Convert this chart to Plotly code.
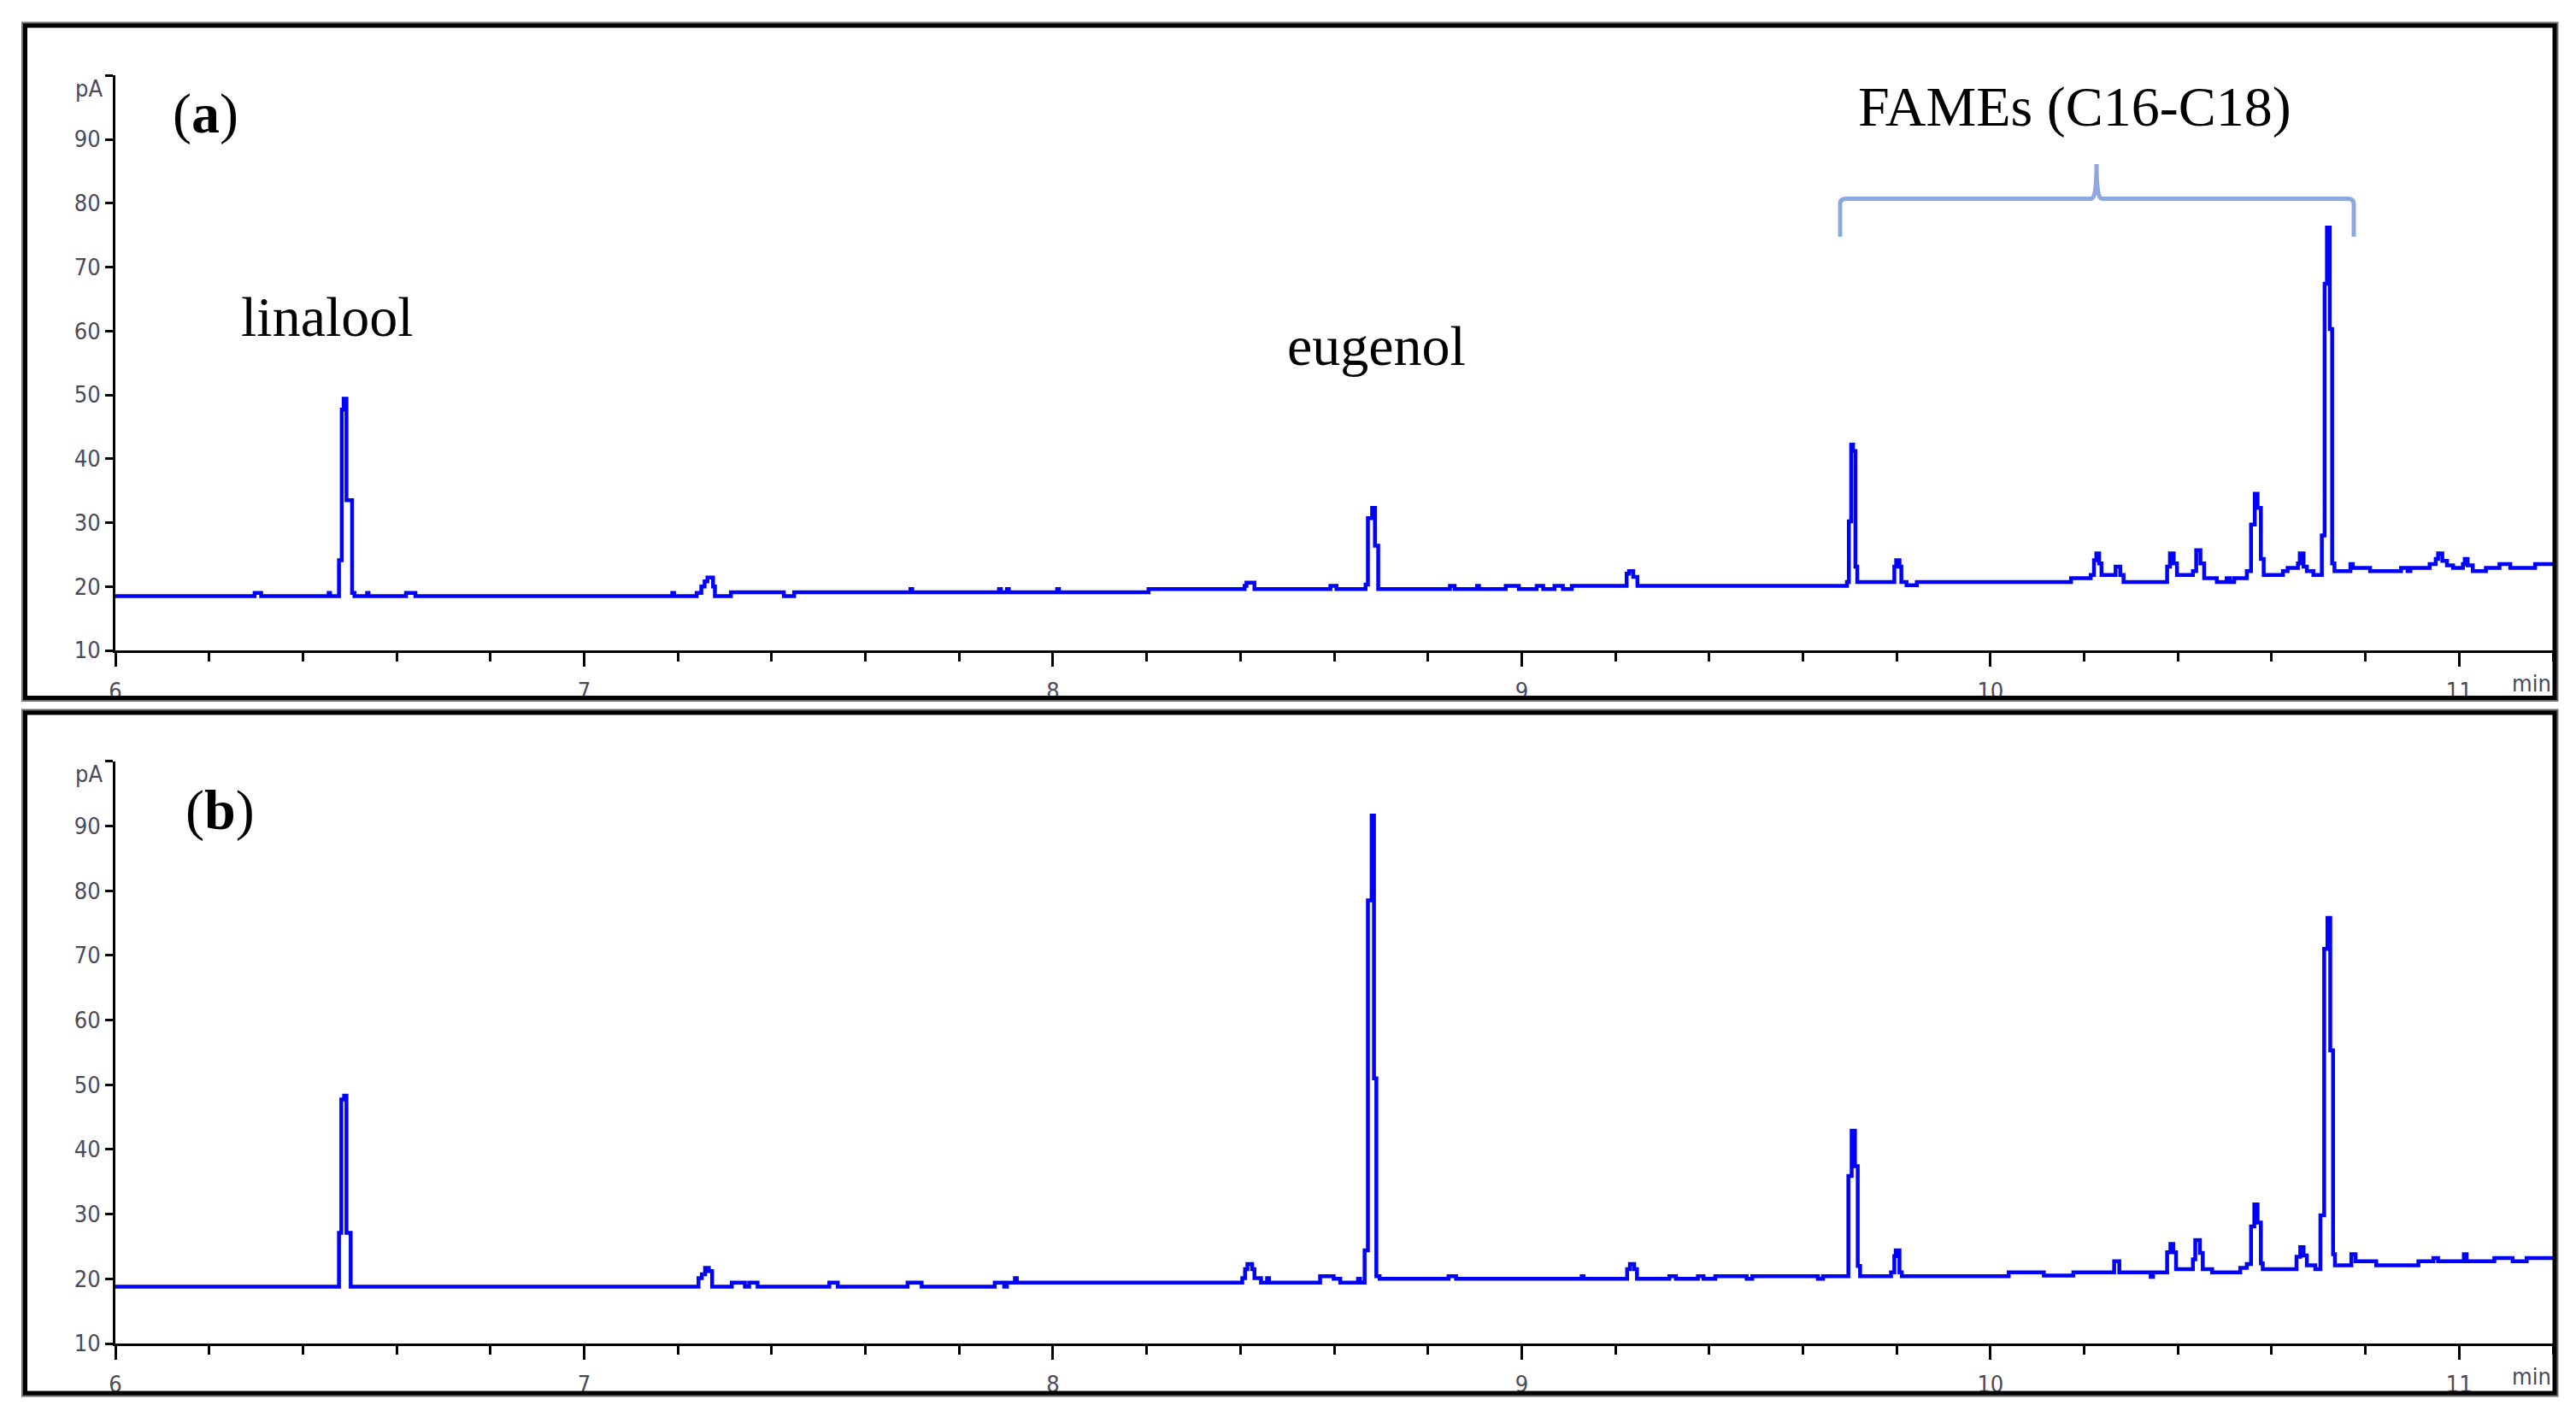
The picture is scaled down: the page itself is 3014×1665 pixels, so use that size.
import plotly.graph_objects as go

# ---------------- data ----------------
# Panel (a): retention time (min) and detector signal (pA), step-wise trace
T_A = [6.000, 6.297, 6.311, 6.455, 6.458, 6.477, 6.483, 6.487, 6.493, 6.505, 6.510, 6.537, 6.540,
       6.620, 6.640, 7.188, 7.192, 7.240, 7.250, 7.257, 7.263, 7.275, 7.279, 7.313, 7.426, 7.448,
       7.696, 7.700, 7.885, 7.889, 7.902, 7.906, 8.009, 8.013, 8.204, 8.409, 8.413, 8.430, 8.592,
       8.605, 8.667, 8.672, 8.681, 8.687, 8.694, 8.847, 8.857, 8.905, 8.909, 8.966, 8.994, 9.032,
       9.046, 9.070, 9.088, 9.107, 9.224, 9.229, 9.238, 9.247, 9.694, 9.698, 9.703, 9.707, 9.712,
       9.716, 9.795, 9.799, 9.806, 9.810, 9.821, 9.843, 10.172, 10.214, 10.221, 10.226, 10.232,
       10.237, 10.267, 10.277, 10.284, 10.377, 10.383, 10.391, 10.398, 10.432, 10.439, 10.448,
       10.456, 10.483, 10.504, 10.511, 10.520, 10.547, 10.556, 10.564, 10.570, 10.577, 10.583,
       10.624, 10.634, 10.656, 10.660, 10.668, 10.675, 10.689, 10.707, 10.713, 10.718, 10.724,
       10.729, 10.734, 10.768, 10.773, 10.810, 10.876, 10.890, 10.896, 10.937, 10.950, 10.955,
       10.964, 10.974, 10.987, 11.008, 11.012, 11.018, 11.029, 11.057, 11.086, 11.109, 11.162,
       11.200]
V_A = [18.5, 19.0, 18.5, 19.0, 18.5, 24.1, 47.7, 49.4, 33.5, 19.0, 18.5, 19.0, 18.5,
       19.0, 18.5, 19.0, 18.5, 19.0, 20.0, 20.8, 21.4, 20.0, 18.5, 19.1, 18.5, 19.1,
       19.6, 19.1, 19.6, 19.1, 19.6, 19.1, 19.6, 19.1, 19.6, 20.1, 20.6, 19.6, 20.1,
       19.6, 20.3, 30.7, 32.3, 26.4, 19.6, 20.1, 19.6, 20.1, 19.6, 20.1, 19.6, 20.1,
       19.6, 20.1, 19.6, 20.1, 22.0, 22.4, 21.5, 20.1, 20.7, 30.2, 42.2, 41.2, 23.1,
       20.7, 23.1, 24.1, 23.1, 20.7, 20.2, 20.7, 21.3, 21.8, 24.1, 25.2, 23.6,
       21.8, 23.1, 21.8, 20.7, 23.1, 25.2, 23.6, 21.8, 22.4, 25.7, 23.6,
       21.3, 20.7, 21.3, 20.7, 21.3, 22.4, 29.7, 34.5, 32.3, 24.3, 21.8,
       22.4, 22.9, 23.6, 25.2, 23.1, 22.4, 21.8, 28.0, 67.4, 76.2, 60.3,
       23.6, 22.4, 23.5, 22.9, 22.4, 22.9, 22.4, 22.9, 23.5, 24.3, 25.2,
       24.0, 23.3, 22.9, 23.5, 24.3, 23.3, 22.4, 22.9, 23.5, 22.9, 23.5,
       23.5]

# Panel (b)
T_B = [6.000, 6.477, 6.482, 6.488, 6.493, 6.502, 7.244, 7.251, 7.258, 7.266, 7.273, 7.315, 7.343,
       7.352, 7.370, 7.523, 7.541, 7.690, 7.720, 7.876, 7.896, 7.902, 7.919, 7.923, 8.404, 8.410,
       8.415, 8.425, 8.430, 8.444, 8.457, 8.461, 8.570, 8.599, 8.613, 8.651, 8.655, 8.665, 8.672,
       8.680, 8.685, 8.690, 8.697, 8.844, 8.860, 9.128, 9.132, 9.225, 9.231, 9.240, 9.246, 9.315,
       9.329, 9.376, 9.388, 9.413, 9.480, 9.492, 9.632, 9.643, 9.697, 9.704, 9.711, 9.717, 9.722,
       9.788, 9.795, 9.798, 9.806, 9.811, 10.039, 10.114, 10.177, 10.264, 10.275, 10.342, 10.347,
       10.377, 10.384, 10.390, 10.396, 10.432, 10.437, 10.447, 10.453, 10.473, 10.533, 10.547,
       10.556, 10.563, 10.570, 10.577, 10.581, 10.653, 10.661, 10.668, 10.675, 10.693, 10.704,
       10.712, 10.719, 10.725, 10.731, 10.735, 10.770, 10.779, 10.823, 10.913, 10.945, 10.955,
       11.010, 11.016, 11.075, 11.114, 11.144, 11.200]
V_B = [18.8, 27.1, 47.7, 48.3, 27.1, 18.8, 20.1, 20.7, 21.7, 21.2, 18.8, 19.4, 18.8,
       19.4, 18.8, 19.4, 18.8, 19.4, 18.8, 19.4, 18.8, 19.4, 20.1, 19.4, 20.1, 21.5,
       22.3, 21.5, 20.1, 19.4, 20.1, 19.4, 20.4, 20.0, 19.4, 20.0, 19.4, 24.4, 78.5,
       91.6, 51.0, 20.4, 20.0, 20.4, 20.0, 20.4, 20.0, 21.5, 22.3, 21.5, 20.0, 20.4,
       20.0, 20.4, 20.0, 20.4, 20.0, 20.4, 20.0, 20.4, 35.9, 42.9, 37.4, 22.0, 20.4,
       21.0, 23.5, 24.4, 21.0, 20.4, 21.0, 20.5, 21.0, 22.7, 21.0, 20.3, 21.0,
       24.1, 25.4, 24.1, 21.5, 23.0, 26.0, 24.0, 21.5, 21.0, 21.7, 22.3,
       28.1, 31.5, 28.7, 22.4, 21.5, 23.4, 24.9, 23.6, 22.1, 21.5, 29.8,
       71.0, 75.8, 55.3, 23.8, 22.1, 23.8, 22.7, 22.1, 22.7, 23.2, 22.7,
       23.8, 22.7, 23.2, 22.7, 23.2, 23.2]

X_RANGE = [6, 11.2]
Y_RANGE = [10, 100]
Y_TICKS = [10, 20, 30, 40, 50, 60, 70, 80, 90, 100]
Y_TICKTEXT = ["10", "20", "30", "40", "50", "60", "70", "80", "90", ""]
X_TICKS = [6, 7, 8, 9, 10, 11]
X_TICKTEXT = ["6", "7", "8", "9", "10", "11"]

# ---------------- layout helpers (pixel -> paper) ----------------
W, H = 3014, 1665
def px(X):
    return X / W
def py(Y):
    return 1 - Y / H

LINE_BLUE = "#0000FF"
TICKFONT = dict(family="Liberation Sans Narrow, DejaVu Sans Condensed, Liberation Sans, Arial", size=27, color="#4a4a5a")
SERIF = "Liberation Serif, Times New Roman, serif"

fig = go.Figure()
fig.add_trace(go.Scatter(x=T_A, y=V_A, mode="lines", line=dict(color=LINE_BLUE, width=4.5, shape="hv"),
                         xaxis="x", yaxis="y", showlegend=False, hoverinfo="skip"))
fig.add_trace(go.Scatter(x=T_B, y=V_B, mode="lines", line=dict(color=LINE_BLUE, width=4.5, shape="hv"),
                         xaxis="x2", yaxis="y2", showlegend=False, hoverinfo="skip"))

xdom = [px(135), px(2987)]
common_x = dict(range=X_RANGE, domain=xdom, showgrid=False, zeroline=False, showline=True,
                automargin=False,
                linecolor="black", linewidth=3, ticks="outside", ticklen=16, tickwidth=3,
                tickcolor="black", tickvals=X_TICKS, ticktext=X_TICKTEXT, tickfont=TICKFONT,
                ticklabelstandoff=6,
                minor=dict(ticks="outside", dtick=0.2, tick0=6, ticklen=10, tickwidth=3,
                           tickcolor="black", showgrid=False))
common_y = dict(range=Y_RANGE, showgrid=False, zeroline=False, showline=True, linecolor="black",
                automargin=False,
                linewidth=3, ticks="outside", ticklen=9, tickwidth=3, tickcolor="black",
                tickvals=Y_TICKS, ticktext=Y_TICKTEXT, tickfont=TICKFONT)

fig.update_layout(
    width=W, height=H, margin=dict(l=0, r=0, t=0, b=0, autoexpand=False),
    paper_bgcolor="white", plot_bgcolor="white",
    xaxis=dict(anchor="y", **common_x),
    yaxis=dict(anchor="x", domain=[py(761), py(761 - 90 * 7.475)], **common_y),
    xaxis2=dict(anchor="y2", **common_x),
    yaxis2=dict(anchor="x2", domain=[py(1572), py(1572 - 90 * 7.57)], **common_y),
)

# ---------------- frames around the two panels ----------------
shapes = []
for (l, t, r, b) in [(29.5, 30, 2989, 816.5), (29.5, 834, 2989, 1630)]:
    shapes.append(dict(type="rect", xref="paper", yref="paper", x0=px(l - 2.5), x1=px(r + 2.5),
                       y0=py(b + 2.5), y1=py(t - 2.5), line=dict(color="#707070", width=4)))
    shapes.append(dict(type="rect", xref="paper", yref="paper", x0=px(l), x1=px(r),
                       y0=py(b), y1=py(t), line=dict(color="black", width=5)))

# curly bracket over the FAMEs
bx0, bx1, bmid, by, btip, bend = 2153, 2754, 2453, 232.5, 192, 277
path = (f"M {px(bx0)},{py(bend)} L {px(bx0)},{py(by + 6)} Q {px(bx0)},{py(by)} {px(bx0 + 7)},{py(by)} "
        f"L {px(bmid - 6)},{py(by)} Q {px(bmid)},{py(by)} {px(bmid)},{py(btip)} "
        f"Q {px(bmid)},{py(by)} {px(bmid + 6)},{py(by)} L {px(bx1 - 7)},{py(by)} "
        f"Q {px(bx1)},{py(by)} {px(bx1)},{py(by + 6)} L {px(bx1)},{py(bend)}")
shapes.append(dict(type="path", xref="paper", yref="paper", path=path,
                   line=dict(color="#8DA9DB", width=5)))
fig.update_layout(shapes=shapes)

# ---------------- text ----------------
ann = []
def label(text, X, Y, size=66):
    ann.append(dict(text=text, xref="paper", yref="paper", x=px(X), y=py(Y), xanchor="center",
                    yanchor="middle", showarrow=False, font=dict(family=SERIF, size=size, color="black")))

label("(<b>a</b>)", 240, 133)
label("(<b>b</b>)", 257, 948)
label("linalool", 383, 370)
label("eugenol", 1610, 405)
label("FAMEs (C16-C18)", 2427, 125)

for yref_name, xref_name in [("y", "x"), ("y2", "x2")]:
    ann.append(dict(text="pA", xref="paper", yref=yref_name, x=px(122), y=98,
                    xanchor="right", yanchor="middle", showarrow=False, font=TICKFONT))
for Ybase in (761, 1572):
    ann.append(dict(text="min", xref="paper", yref="paper", x=px(2987), y=py(Ybase + 38),
                    xanchor="right", yanchor="middle", showarrow=False, font=TICKFONT))
fig.update_layout(annotations=ann)

fig.write_html("out.html", config={"displayModeBar": False},
               post_script="document.body.style.margin='0';document.body.style.padding='0';"
                           "document.documentElement.style.overflow='hidden';")
